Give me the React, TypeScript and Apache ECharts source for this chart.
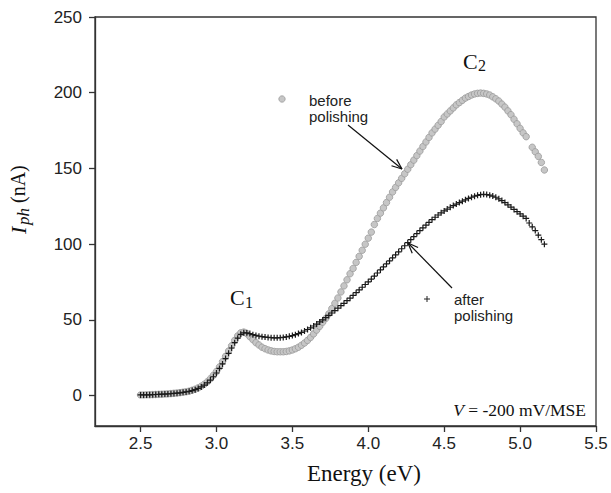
import React, { useEffect, useRef } from "react";
import * as echarts from "echarts";

const energy = [
  2.50, 2.52, 2.54, 2.56, 2.58, 2.60, 2.62, 2.64, 2.66, 2.68,
  2.70, 2.72, 2.74, 2.76, 2.78, 2.80, 2.82, 2.84, 2.86, 2.88,
  2.90, 2.92, 2.94, 2.96, 2.98, 3.00, 3.02, 3.04, 3.06, 3.08,
  3.10, 3.12, 3.14, 3.16, 3.18, 3.20, 3.22, 3.24, 3.26, 3.28,
  3.30, 3.32, 3.34, 3.36, 3.38, 3.40, 3.42, 3.44, 3.46, 3.48,
  3.50, 3.52, 3.54, 3.56, 3.58, 3.60, 3.62, 3.64, 3.66, 3.68,
  3.70, 3.72, 3.74, 3.76, 3.78, 3.80, 3.82, 3.84, 3.86, 3.88,
  3.90, 3.92, 3.94, 3.96, 3.98, 4.00, 4.02, 4.04, 4.06, 4.08,
  4.10, 4.12, 4.14, 4.16, 4.18, 4.20, 4.22, 4.24, 4.26, 4.28,
  4.30, 4.32, 4.34, 4.36, 4.38, 4.40, 4.42, 4.44, 4.46, 4.48,
  4.50, 4.52, 4.54, 4.56, 4.58, 4.60, 4.62, 4.64, 4.66, 4.68,
  4.70, 4.72, 4.74, 4.76, 4.78, 4.80, 4.82, 4.84, 4.86, 4.88,
  4.90, 4.92, 4.94, 4.96, 4.98, 5.00, 5.02, 5.04, 5.06, 5.08,
  5.10, 5.12, 5.14, 5.16,
];

const beforePolishing: (number | null)[] = [
  0.5, 0.5, 0.6, 0.6, 0.7, 0.8, 0.9, 1.0, 1.1, 1.2,
  1.4, 1.6, 1.8, 2.0, 2.3, 2.6, 3.0, 3.6, 4.3, 5.2,
  6.3, 7.6, 9.2, 11.2, 13.5, 16, 19, 22.5, 26, 29.5,
  33, 36.5, 39.5, 41.5, 42, 41, 39, 37, 35, 33.5,
  32, 31, 30.2, 29.6, 29.2, 29, 29, 29, 29.2, 29.6,
  30.2, 31, 32, 33.3, 34.8, 36.5, 38.5, 40.8, 43.3, 45.8,
  48.5, 51, 54, 57.5, 61, 64.5, 68.5, 72.5, 76.5, 80.5,
  84, 88, 92, 96, 100, 104, 108, 113, 117, 120.5,
  124, 127.5, 131, 134.5, 137.5, 140.5, 143.5, 146.5, 149.5, 152.5,
  155.5, 158.5, 161.5, 164.5, 167.5, 170.5, 173.5, 176, 178.5, 181,
  184, 186, 188, 190, 192, 193.5, 195, 196.5, 197.5, 198.5,
  199.2, 199.6, 199.8, 199.6, 199.2, 198.5, 197.3, 196, 194.5, 192.5,
  190.5, 188, 185.5, 182.5, 179.5, 176.5, 173.5, 171, null, 164,
  161, 158, 154, 149,
];

const afterPolishing: number[] = [
  0.5, 0.5, 0.5, 0.6, 0.7, 0.8, 0.9, 1.0, 1.1, 1.2,
  1.3, 1.5, 1.7, 1.9, 2.2, 2.5, 2.9, 3.4, 4.0, 4.8,
  5.8, 7.0, 8.5, 10.3, 12.5, 15, 18, 21, 24.5, 28,
  31.5, 35, 38, 40.5, 41.5, 41.5, 41, 40.3, 39.8, 39.3,
  39, 38.7, 38.5, 38.3, 38.2, 38.2, 38.3, 38.5, 38.8, 39.2,
  39.7, 40.3, 41, 41.8, 42.7, 43.7, 44.8, 46, 47.3, 48.7,
  50, 51.5, 53, 54.6, 56.2, 57.8, 59.4, 61, 62.7, 64.4,
  66.2, 68, 69.8, 71.6, 73.4, 75.2, 77, 79, 81, 83,
  85, 87, 89, 91, 93, 95, 97, 99, 101, 103,
  105, 107, 109, 110.8, 112.6, 114.4, 116.2, 117.8, 119.3, 120.7,
  122, 123.2, 124.4, 125.5, 126.5, 127.5, 128.4, 129.3, 130.2, 131,
  131.7, 132.3, 132.7, 133, 132.8, 132.4, 131.8, 131, 130, 128.8,
  127.5, 126, 124.5, 123, 121.5, 120, 118.5, 117, 114, 111.5,
  109, 106, 103, 100,
];

const xTicks = [2.5, 3.0, 3.5, 4.0, 4.5, 5.0, 5.5];
const yTicks = [0, 50, 100, 150, 200, 250];

const SERIF = "'Liberation Serif', 'DejaVu Serif', serif";
const SANS = "'Liberation Sans', Arial, sans-serif";
const PLUS = "path://M4,0H6V4H10V6H6V10H4V6H0V4H4Z";

function arrow(x1: number, y1: number, x2: number, y2: number) {
  const a = Math.atan2(y2 - y1, x2 - x1);
  const h = 11;
  const s = 0.38;
  const st = { stroke: "#111", lineWidth: 1.2 };
  return [
    { type: "line", shape: { x1, y1, x2, y2 }, style: st, silent: true },
    {
      type: "line",
      shape: { x1: x2, y1: y2, x2: x2 - h * Math.cos(a - s), y2: y2 - h * Math.sin(a - s) },
      style: st,
      silent: true,
    },
    {
      type: "line",
      shape: { x1: x2, y1: y2, x2: x2 - h * Math.cos(a + s), y2: y2 - h * Math.sin(a + s) },
      style: st,
      silent: true,
    },
  ];
}

export default function App() {
  const ref = useRef<HTMLDivElement>(null);

  useEffect(() => {
    if (!ref.current) return;
    const chart = echarts.init(ref.current, undefined, { renderer: "svg" });

    const beforeData = energy
      .map((x, i) => [x, beforePolishing[i]])
      .filter((p) => p[1] !== null);
    const afterData = energy.map((x, i) => [x, afterPolishing[i]]);

    const plusStyle = { stroke: "#222", lineWidth: 1 };
    const axisColor = "#333";

    const option: any = {
      animation: false,
      backgroundColor: "#ffffff",
      grid: {
        left: 95,
        right: 15,
        top: 17,
        bottom: 67,
        show: true,
        borderColor: axisColor,
        borderWidth: 1.3,
        backgroundColor: "transparent",
      },
      xAxis: {
        type: "value",
        min: 2.2,
        max: 5.5,
        splitLine: { show: false },
        axisLine: { show: true, onZero: false, lineStyle: { color: axisColor, width: 1.3 } },
        axisTick: {
          show: true,
          inside: false,
          length: 6,
          customValues: xTicks,
          lineStyle: { color: axisColor, width: 1.3 },
        },
        axisLabel: {
          customValues: xTicks,
          formatter: (v: number) => v.toFixed(1),
          color: "#222",
          fontFamily: SANS,
          fontSize: 17,
          margin: 9,
        },
      },
      yAxis: {
        type: "value",
        min: -20,
        max: 250,
        splitLine: { show: false },
        axisLine: { show: true, onZero: false, lineStyle: { color: axisColor, width: 1.3 } },
        axisTick: {
          show: true,
          inside: false,
          length: 6,
          customValues: yTicks,
          lineStyle: { color: axisColor, width: 1.3 },
        },
        axisLabel: {
          customValues: yTicks,
          color: "#222",
          fontFamily: SANS,
          fontSize: 17,
          margin: 13,
        },
      },
      series: [
        {
          name: "before polishing",
          type: "scatter",
          data: beforeData,
          symbol: "circle",
          symbolSize: 6.5,
          itemStyle: { color: "#c6c6c6", borderColor: "#999", borderWidth: 0.8, opacity: 1 },
          z: 2,
        },
        {
          name: "after polishing",
          type: "scatter",
          data: afterData,
          symbol: PLUS,
          symbolSize: 6,
          itemStyle: { color: "#1a1a1a", opacity: 1 },
          z: 3,
        },
      ],
      graphic: [
        {
          type: "circle",
          shape: { cx: 282, cy: 99, r: 3.2 },
          style: { fill: "#c6c6c6", stroke: "#999", lineWidth: 0.8 },
          silent: true,
        },
        {
          type: "text",
          x: 309,
          y: 92,
          style: {
            text: "before\npolishing",
            font: `15px ${SANS}`,
            fill: "#222",
            lineHeight: 16,
            textAlign: "left",
            textVerticalAlign: "top",
          },
          silent: true,
        },
        ...arrow(348, 125, 402, 169),
        { type: "line", shape: { x1: 424, y1: 299, x2: 430, y2: 299 }, style: plusStyle, silent: true },
        { type: "line", shape: { x1: 427, y1: 296, x2: 427, y2: 302 }, style: plusStyle, silent: true },
        {
          type: "text",
          x: 454,
          y: 291,
          style: {
            text: "after\npolishing",
            font: `15px ${SANS}`,
            fill: "#222",
            lineHeight: 16,
            textAlign: "left",
            textVerticalAlign: "top",
          },
          silent: true,
        },
        ...arrow(452, 288, 408, 243),
        {
          type: "text",
          x: 230,
          y: 297,
          style: { text: "C", font: `22px ${SERIF}`, fill: "#111", textAlign: "left", textVerticalAlign: "middle" },
          silent: true,
        },
        {
          type: "text",
          x: 245,
          y: 302,
          style: { text: "1", font: `16px ${SERIF}`, fill: "#111", textAlign: "left", textVerticalAlign: "middle" },
          silent: true,
        },
        {
          type: "text",
          x: 463,
          y: 61,
          style: { text: "C", font: `22px ${SERIF}`, fill: "#111", textAlign: "left", textVerticalAlign: "middle" },
          silent: true,
        },
        {
          type: "text",
          x: 478,
          y: 65,
          style: { text: "2", font: `16px ${SERIF}`, fill: "#111", textAlign: "left", textVerticalAlign: "middle" },
          silent: true,
        },
        {
          type: "text",
          x: 586,
          y: 410,
          style: {
            text: "{i|V} = -200 mV/MSE",
            font: `17.5px ${SERIF}`,
            fill: "#111",
            textAlign: "right",
            textVerticalAlign: "middle",
            rich: {
              i: { fontStyle: "italic", fontFamily: SERIF, fontSize: 17.5, fill: "#111" },
            },
          },
          silent: true,
        },
        {
          type: "text",
          x: 364,
          y: 473,
          style: {
            text: "Energy (eV)",
            font: `23px ${SERIF}`,
            fill: "#111",
            textAlign: "center",
            textVerticalAlign: "middle",
          },
          silent: true,
        },
        {
          type: "group",
          x: 18,
          y: 234,
          rotation: Math.PI / 2,
          silent: true,
          children: [
            {
              type: "text",
              x: 0,
              y: 0,
              style: {
                text: "I",
                font: `italic 22px ${SERIF}`,
                fill: "#111",
                textAlign: "left",
                textVerticalAlign: "middle",
              },
            },
            {
              type: "text",
              x: 9,
              y: 5,
              style: {
                text: "ph",
                font: `italic 17px ${SERIF}`,
                fill: "#111",
                textAlign: "left",
                textVerticalAlign: "middle",
              },
            },
            {
              type: "text",
              x: 31,
              y: 0,
              style: {
                text: "(nA)",
                font: `20px ${SERIF}`,
                fill: "#111",
                textAlign: "left",
                textVerticalAlign: "middle",
              },
            },
          ],
        },
      ],
    };

    chart.setOption(option);
    return () => chart.dispose();
  }, []);

  return (
    <div
      ref={ref}
      style={{ position: "fixed", left: 0, top: 0, width: 611, height: 493, background: "#fff" }}
    />
  );
}
